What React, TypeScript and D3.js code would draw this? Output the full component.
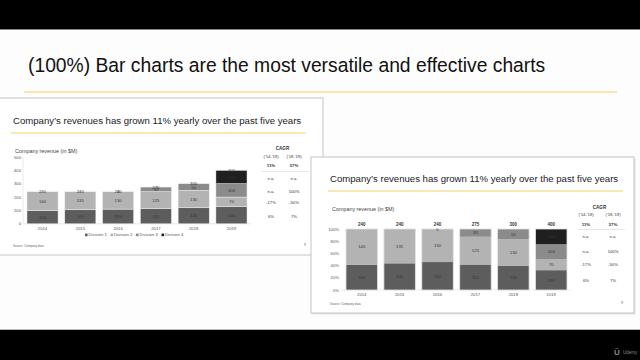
import React from "react";
import * as d3 from "d3";

const years = ["2014", "2015", "2016", "2017", "2018", "2019"];
const division1 = [100, 105, 110, 115, 120, 130];
const division2 = [140, 135, 130, 125, 130, 70];
const division3: (number | null)[] = [null, null, 0, 35, 50, 100];
const division4: (number | null)[] = [null, null, null, null, null, 100];
const divisionNames = ["Division 1", "Division 2", "Division 3", "Division 4"];
const revenueTicks = [0, 100, 200, 300, 400, 500];
const shareTicks = [0, 0.2, 0.4, 0.6, 0.8, 1];
const cagrHeaders = ["('14-'19)", "('18-'19)"];
const cagrTotal = ["11%", "37%"];
const cagr1419 = ["6%", "-17%", "n.a.", "n.a."];
const cagr1819 = ["7%", "-50%", "100%", "n.a."];

const COLORS = ["#5d5d5d", "#b3b3b3", "#8b8b8b", "#1f1f1f"];
const FONT = "'Liberation Sans', Arial, sans-serif";
const TXT = "#333";

const series = [division1, division2, division3, division4];
const rows = years.map((y, i) => {
  const r: any = { year: y };
  series.forEach((s, k) => (r["d" + k] = s[i] ?? 0));
  return r;
});
const keys = ["d0", "d1", "d2", "d3"];
const totals = rows.map((r) => keys.reduce((a, k) => a + r[k], 0));
const stacked = d3.stack().keys(keys)(rows as any);
const stackedPct = d3
  .stack()
  .keys(keys)
  .offset(d3.stackOffsetExpand)(rows as any);

function Panel({ x, y, w, h, shadow }: any) {
  return (
    <g>
      {shadow && <rect x={x + 1.5} y={y + 1.5} width={w} height={h} fill="#e4e4e4" />}
      <rect x={x} y={y} width={w} height={h} fill="#fff" stroke="#c4c4c4" strokeWidth={1} />
    </g>
  );
}

function Header({ ox, oy, title }: any) {
  return (
    <g>
      <text x={ox + 14} y={oy + 25.5} fontSize={9.6} fill="#222" fontFamily={FONT}>
        {title}
      </text>
      <line x1={ox + 12} x2={ox + 307} y1={oy + 35} y2={oy + 35} stroke="#f3d36b" strokeWidth={1.2} />
      <text x={ox + 16} y={oy + 55} fontSize={5.4} fill="#444" fontFamily={FONT}>
        Company revenue (in $M)
      </text>
      <text x={ox + 14} y={oy + 149} fontSize={3} fill="#666" fontFamily={FONT}>
        Source: Company data
      </text>
      <text x={ox + 305} y={oy + 148} fontSize={3.5} fill="#666" fontFamily={FONT}>
        9
      </text>
    </g>
  );
}

function Cagr({ c1, c2, yCagr, yHead, yTot, lineY, lx1, lx2, rowY }: any) {
  const mid = (c1 + c2) / 2;
  return (
    <g fontFamily={FONT} fill={TXT} textAnchor="middle">
      <text x={mid} y={yCagr} fontSize={4.6} fontWeight="bold">CAGR</text>
      {cagrHeaders.map((t, i) => (
        <text key={t} x={i ? c2 : c1} y={yHead} fontSize={4.2}>{t}</text>
      ))}
      {cagrTotal.map((t, i) => (
        <text key={t} x={i ? c2 : c1} y={yTot} fontSize={4.4} fontWeight="bold">{t}</text>
      ))}
      <line x1={lx1} x2={lx2} y1={lineY} y2={lineY} stroke="#d8d8d8" strokeWidth={0.6} />
      {cagr1419.map((t, k) => (
        <g key={k}>
          <text x={c1} y={rowY(k) + 1.5} fontSize={4.2}>{t}</text>
          <text x={c2} y={rowY(k) + 1.5} fontSize={4.2}>{cagr1819[k]}</text>
        </g>
      ))}
    </g>
  );
}

function Chart1() {
  const ox = -1, oy = 98;
  const x = d3.scaleBand().domain(years).range([23.2, 250.8]).paddingInner(0.177).paddingOuter(0.1);
  const y = d3.scaleLinear().domain([0, 500]).range([223.8, 157]);
  const last = stacked.map((s) => s[5]);
  return (
    <g>
      <Panel x={ox} y={oy} w={324} h={157} />
      <Header ox={ox} oy={oy} title="Company’s revenues has grown 11% yearly over the past five years" />
      <line x1={23} x2={23} y1={157} y2={223.8} stroke="#d0d0d0" strokeWidth={0.5} />
      <line x1={23} x2={251} y1={223.8} y2={223.8} stroke="#d0d0d0" strokeWidth={0.5} />
      {revenueTicks.map((t) => (
        <text key={t} x={21} y={y(t) + 1.5} fontSize={4.2} fill="#555" textAnchor="end" fontFamily={FONT}>
          {t}
        </text>
      ))}
      {stacked.map((s, k) => (
        <g key={k}>
          {s.map((d, i) =>
            d[1] - d[0] > 0 ? (
              <rect
                key={i}
                x={x(years[i])!}
                width={x.bandwidth()}
                y={y(d[1])}
                height={y(d[0]) - y(d[1])}
                fill={COLORS[k]}
                stroke="#eeeeee"
                strokeWidth={0.5}
              />
            ) : null
          )}
        </g>
      ))}
      {stacked.map((s, k) =>
        s.map((d, i) =>
          series[k][i] !== null ? (
            <text
              key={k + "-" + i}
              x={x(years[i])! + x.bandwidth() / 2}
              y={y((d[0] + d[1]) / 2) + 1.5}
              fontSize={4.3}
              fill={TXT}
              textAnchor="middle"
              fontFamily={FONT}
            >
              {series[k][i]}
            </text>
          ) : null
        )
      )}
      {totals.map((t, i) => (
        <text key={i} x={x(years[i])! + x.bandwidth() / 2} y={y(t) + 1.5} fontSize={4.3} fill={TXT} textAnchor="middle" fontFamily={FONT}>
          {t}
        </text>
      ))}
      {years.map((yr) => (
        <text key={yr} x={x(yr)! + x.bandwidth() / 2} y={230} fontSize={4.2} fill="#555" textAnchor="middle" fontFamily={FONT}>
          {yr}
        </text>
      ))}
      {divisionNames.map((n, k) => {
        const lx = 85 + k * 25.5;
        return (
          <g key={n}>
            <rect x={lx} y={233.6} width={2.6} height={2.6} fill={COLORS[k]} />
            <text x={lx + 3.6} y={236.3} fontSize={4.2} fill="#555" fontFamily={FONT}>{n}</text>
          </g>
        );
      })}
      <Cagr
        c1={271}
        c2={294}
        yCagr={149.5}
        yHead={158}
        yTot={167}
        lineY={171.5}
        lx1={262}
        lx2={309}
        rowY={(k: number) => y((last[k][0] + last[k][1]) / 2) + 1}
      />
    </g>
  );
}

function Chart2() {
  const ox = 311, oy = 157;
  const x = d3.scaleBand().domain(years).range([342.2, 570.8]).paddingInner(0.17).paddingOuter(0.1);
  const y = d3.scaleLinear().domain([0, 1]).range([290, 229]);
  const last = stackedPct.map((s) => s[5]);
  return (
    <g>
      <Panel x={ox} y={oy} w={323} h={156} shadow />
      <Header ox={ox + 5} oy={oy - 1} title="Company’s revenues has grown 11% yearly over the past five years" />
      <line x1={341} x2={571} y1={290} y2={290} stroke="#d8d8d8" strokeWidth={0.5} />
      {shareTicks.map((t) => (
        <text key={t} x={339} y={y(t) + 1.5} fontSize={4.2} fill="#555" textAnchor="end" fontFamily={FONT}>
          {Math.round(t * 100) + "%"}
        </text>
      ))}
      {stackedPct.map((s, k) => (
        <g key={k}>
          {s.map((d, i) =>
            d[1] - d[0] > 0 ? (
              <rect
                key={i}
                x={x(years[i])!}
                width={x.bandwidth()}
                y={y(d[1])}
                height={y(d[0]) - y(d[1])}
                fill={COLORS[k]}
              />
            ) : null
          )}
        </g>
      ))}
      {years.map((yr) => (
        <rect key={yr} x={x(yr)!} y={y(1)} width={x.bandwidth()} height={y(0) - y(1)} fill="none" stroke="#e2e2e2" strokeWidth={0.8} />
      ))}
      {stackedPct.map((s, k) =>
        s.map((d, i) =>
          series[k][i] !== null ? (
            <text
              key={k + "-" + i}
              x={x(years[i])! + x.bandwidth() / 2}
              y={y((d[0] + d[1]) / 2) + 1.5}
              fontSize={4.3}
              fill={TXT}
              textAnchor="middle"
              fontFamily={FONT}
            >
              {series[k][i]}
            </text>
          ) : null
        )
      )}
      {totals.map((t, i) => (
        <text key={i} x={x(years[i])! + x.bandwidth() / 2} y={226} fontSize={4.5} fontWeight="bold" fill={TXT} textAnchor="middle" fontFamily={FONT}>
          {t}
        </text>
      ))}
      {years.map((yr) => (
        <text key={yr} x={x(yr)! + x.bandwidth() / 2} y={296} fontSize={4.2} fill="#555" textAnchor="middle" fontFamily={FONT}>
          {yr}
        </text>
      ))}
      <Cagr
        c1={586}
        c2={613}
        yCagr={208.5}
        yHead={216}
        yTot={226}
        lineY={229.5}
        lx1={578}
        lx2={625}
        rowY={(k: number) => y((last[k][0] + last[k][1]) / 2)}
      />
    </g>
  );
}

export default function App() {
  return (
    <svg
      width={640}
      height={360}
      viewBox="0 0 640 360"
      style={{ position: "fixed", left: 0, top: 0, display: "block", background: "#000" }}
    >
      <rect x={0} y={0} width={640} height={360} fill="#000" />
      <rect x={0} y={29} width={640} height={301} fill="#fdfdfd" />
      <line x1={0} x2={640} y1={29.5} y2={29.5} stroke="#888" strokeWidth={1} />
      <line x1={0} x2={640} y1={329.5} y2={329.5} stroke="#bbb" strokeWidth={1} />
      <text x={28} y={72} fontSize={19.3} fill="#111" fontFamily={FONT}>
        (100%) Bar charts are the most versatile and effective charts
      </text>
      <line x1={24} x2={617} y1={92} y2={92} stroke="#f5cf5a" strokeWidth={1.2} />
      <Chart1 />
      <Chart2 />
      <text x={623} y={354} fontSize={4.5} fill="#888" fontFamily={FONT}>Udemy</text>
      <text x={614} y={355} fontSize={8} fill="#888" fontFamily={FONT} fontWeight="bold">Ü</text>
    </svg>
  );
}
